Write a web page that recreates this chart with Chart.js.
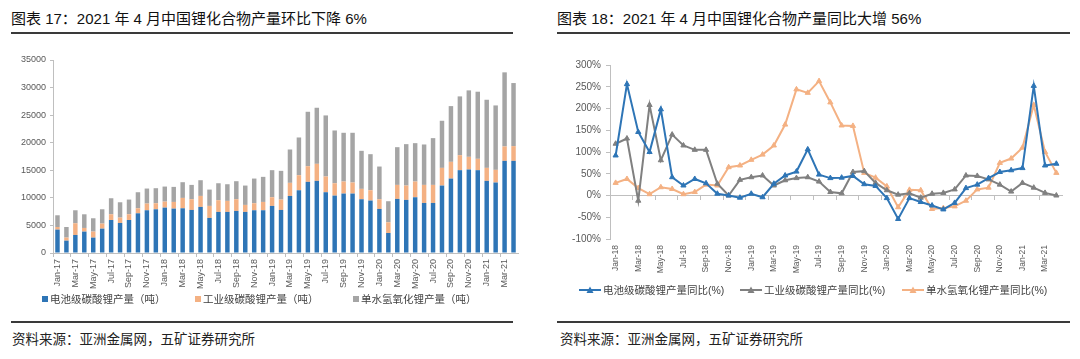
<!DOCTYPE html>
<html>
<head>
<meta charset="utf-8">
<script src="https://cdn.jsdelivr.net/npm/chart.js@4.4.1/dist/chart.umd.min.js"></script>
<style>
body { margin:0; width:1080px; height:359px; background:#fff; position:relative; overflow:hidden;
       font-family:"Liberation Sans","Noto Sans CJK SC",sans-serif; }
.title { position:absolute; top:9px; font-size:15px; line-height:20px; color:#111; white-space:nowrap; }
.rule { position:absolute; height:0; border-top:2px solid #3a3a3a; }
.source { position:absolute; top:331px; font-size:13.5px; line-height:18px; color:#222; white-space:nowrap; }
canvas { position:absolute; }
.leg { position:absolute; font-size:10.5px; line-height:12px; color:#404040; white-space:nowrap; display:flex; align-items:center; }
.sq { display:inline-block; width:6px; height:6px; margin-right:2px; }
.leg svg { margin-right:2px; }
</style>
</head>
<body>
<div class="title" style="left:11px">图表 17：2021 年 4 月中国锂化合物产量环比下降 6%</div>
<div class="title" style="left:557px">图表 18：2021 年 4 月中国锂化合物产量同比大增 56%</div>
<div class="rule" style="left:11px;width:502px;top:32px"></div>
<div class="rule" style="left:557px;width:513px;top:32px"></div>
<div class="rule" style="left:11px;width:502px;top:321px"></div>
<div class="rule" style="left:557px;width:513px;top:321px"></div>
<div class="source" style="left:12px">资料来源：亚洲金属网，五矿证券研究所</div>
<div class="source" style="left:560px">资料来源：亚洲金属网，五矿证券研究所</div>

<canvas id="prodChart" width="530" height="255" style="left:0;top:40px"></canvas>
<canvas id="yoyChart" width="535" height="240" style="left:545px;top:40px"></canvas>

<script>
// 产量 (吨), Jan-17 .. Apr-21
const prodMonths = [
  "Jan-17","Feb-17","Mar-17","Apr-17","May-17","Jun-17","Jul-17","Aug-17","Sep-17","Oct-17","Nov-17","Dec-17",
  "Jan-18","Feb-18","Mar-18","Apr-18","May-18","Jun-18","Jul-18","Aug-18","Sep-18","Oct-18","Nov-18","Dec-18",
  "Jan-19","Feb-19","Mar-19","Apr-19","May-19","Jun-19","Jul-19","Aug-19","Sep-19","Oct-19","Nov-19","Dec-19",
  "Jan-20","Feb-20","Mar-20","Apr-20","May-20","Jun-20","Jul-20","Aug-20","Sep-20","Oct-20","Nov-20","Dec-20",
  "Jan-21","Feb-21","Mar-21","Apr-21"
];
const batteryTons = [
  4240,2240,3270,3880,2790,4420,5990,5450,5990,7200,7750,7930,
  8230,8050,8110,7810,8360,6360,7450,7450,7630,7450,7750,7750,
  8540,7810,10350,11380,12900,13080,11020,10410,10780,10780,9750,9510,
  7990,3630,9810,9630,10110,9080,9080,12230,13500,15020,15140,15020,
  13080,12780,16710,16710
];
const industrialTons = [
  480,550,2120,660,1090,910,1030,970,1030,910,1210,1090,
  1090,1210,1880,1940,1990,2180,2120,2000,2120,1270,1270,1510,
  1570,1880,2370,2730,2840,3090,2850,2240,2180,2000,1880,1870,
  1760,1940,2540,2600,2850,3270,3270,3210,3030,2720,2300,2060,
  2360,2300,2610,2670
];
const hydroxideTons = [
  2120,1930,2360,2480,2420,2600,2910,2780,2670,2910,2730,2730,
  2730,2730,2850,2600,2850,2960,3080,3020,3270,3510,4480,4550,
  4910,5210,6050,6840,9870,10170,11080,9570,8840,9020,6900,6540,
  5930,3820,6840,7510,6960,7330,8480,8540,10110,10660,12050,12170,
  12350,11680,13440,11440
];
const prodNames = ["电池级碳酸锂产量（吨）", "工业级碳酸锂产量（吨）", "单水氢氧化锂产量（吨）"];

// 同比 (%), Jan-18 .. Apr-21
const yoyMonths = prodMonths.slice(12);
const batteryYoy = [
  92,256,146,100,198,42,23,38,28,4,
  0,-5,4,-4,27,46,55,106,48,40,
  41,45,26,22,-6,-54,-6,-15,-23,-32,
  -17,17,25,40,54,58,63,252,69,73
];
const industrialYoy = [
  119,131,-12,208,81,140,115,105,105,27,
  0,36,42,46,23,35,40,42,32,8,
  5,54,56,29,12,2,5,-5,4,6,
  14,46,45,37,25,9,29,18,6,0
];
const hydroxideYoy = [
  29,38,17,3,19,15,3,8,25,23,
  65,69,82,94,115,163,244,236,263,214,
  161,160,52,41,21,-27,13,12,-31,-29,
  -25,-12,14,18,75,85,110,208,100,52
];
const yoyNames = ["电池级碳酸锂产量同比(%)", "工业级碳酸锂产量同比(%)", "单水氢氧化锂产量同比(%)"];

const barColors = ["#2E75B6", "#F4B183", "#A5A5A5"];
const lineColors = ["#2E75B6", "#808080", "#F4B183"];
const axisColor = "#bfbfbf";
const hidden = "rgba(0,0,0,0)";

Chart.defaults.font.family = '"Liberation Sans","Noto Sans CJK SC",sans-serif';
Chart.defaults.color = "#595959";

function everyOther(val, idx) {
  return idx % 2 === 0 ? this.getLabelForValue(val) : "";
}

new Chart(document.getElementById("prodChart"), {
  type: "bar",
  data: {
    labels: prodMonths,
    datasets: [batteryTons, industrialTons, hydroxideTons].map((d, i) => ({
      label: prodNames[i],
      data: d,
      backgroundColor: barColors[i],
      barPercentage: 0.5,
      categoryPercentage: 1
    }))
  },
  options: {
    responsive: false,
    animation: false,
    layout: { padding: { top: 20, right: 12, left: 0, bottom: 0 } },
    plugins: { legend: { display: false }, tooltip: { enabled: false } },
    scales: {
      x: {
        stacked: true,
        afterFit: s => { s.height = 42; },
        border: { color: axisColor },
        grid: { drawOnChartArea: false, tickLength: 4, tickColor: c => c.index % 2 === 0 ? axisColor : hidden },
        ticks: { autoSkip: false, maxRotation: 90, minRotation: 90, padding: 2, font: { size: 9 }, callback: everyOther }
      },
      y: {
        stacked: true,
        min: 0,
        max: 35000,
        afterFit: s => { s.width = 53; },
        border: { color: axisColor },
        grid: { drawOnChartArea: false, tickLength: 3, color: axisColor },
        ticks: { stepSize: 5000, padding: 4, font: { size: 9 }, callback: v => String(v) }
      }
    }
  }
});

new Chart(document.getElementById("yoyChart"), {
  type: "line",
  data: {
    labels: yoyMonths,
    datasets: [batteryYoy, industrialYoy, hydroxideYoy].map((d, i) => ({
      label: yoyNames[i],
      data: d,
      xAxisID: "x",
      borderColor: lineColors[i],
      backgroundColor: lineColors[i],
      borderWidth: 2,
      pointStyle: "triangle",
      pointRadius: 3,
      pointBorderWidth: 1,
      tension: 0
    }))
  },
  options: {
    responsive: false,
    animation: false,
    layout: { padding: { top: 25, right: 18, left: 0, bottom: 0 } },
    plugins: { legend: { display: false }, tooltip: { enabled: false } },
    scales: {
      x: {
        offset: true,
        afterFit: s => { s.height = 41; },
        border: { display: false },
        grid: { display: false, drawTicks: false },
        ticks: { autoSkip: false, maxRotation: 90, minRotation: 90, padding: 6, font: { size: 8.5 }, callback: everyOther }
      },
      x0: {
        type: "category",
        position: { y: 0 },
        offset: true,
        border: { color: axisColor },
        grid: { drawOnChartArea: false, offset: true, tickLength: 4, color: c => c.index % 2 === 0 ? axisColor : hidden },
        ticks: { display: false }
      },
      y: {
        min: -100,
        max: 300,
        afterFit: s => { s.width = 65; },
        border: { color: axisColor },
        grid: { drawOnChartArea: false, tickLength: 4, color: axisColor },
        ticks: { stepSize: 50, padding: 5, font: { size: 10 }, callback: v => v + "%" }
      }
    }
  }
});

// legends
function addLegend(names, colors, xs, top, line) {
  names.forEach((name, i) => {
    let el = document.createElement("div");
    el.className = "leg";
    el.style.left = xs[i] + "px";
    el.style.top = top + "px";
    let mark;
    if (line) {
      mark = '<svg width="22" height="8"><line x1="0" y1="4" x2="22" y2="4" stroke="' + colors[i] +
        '" stroke-width="2"/><polygon points="11,0.5 14.5,7 7.5,7" fill="' + colors[i] + '"/></svg>';
    } else {
      mark = '<span class="sq" style="background:' + colors[i] + '"></span>';
    }
    el.innerHTML = mark + "<span>" + name + "</span>";
    document.body.appendChild(el);
  });
}
addLegend(prodNames, barColors, [42, 195, 353], 293, false);
addLegend(yoyNames, lineColors, [579, 740, 902], 284, true);
</script>
</body>
</html>
